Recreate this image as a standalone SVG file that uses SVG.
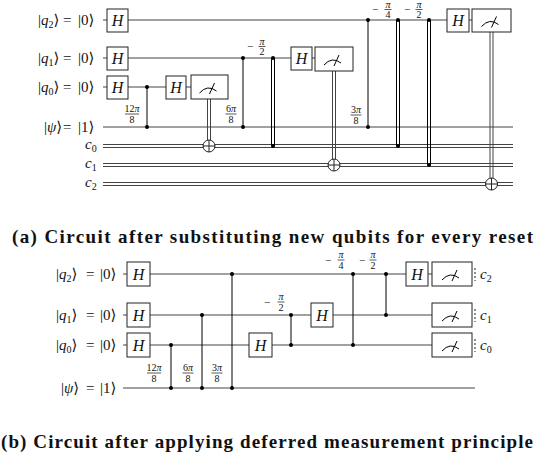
<svg xmlns="http://www.w3.org/2000/svg" width="535" height="460" viewBox="0 0 535 460">
<style>
.w{stroke:#444;stroke-width:1;fill:none}
.c{stroke:#000;stroke-width:1;fill:none}
.box{fill:#fff;stroke:#222;stroke-width:1}
.dot{fill:#000}
.lbl{font-family:"Liberation Serif","DejaVu Serif",serif;font-size:15px;fill:#111}
.it{font-style:italic}
.sub{font-size:10px}
.fr{font-family:"Liberation Serif","DejaVu Serif",serif;font-size:10px;text-anchor:middle;fill:#111}
.mn{font-family:"Liberation Serif","DejaVu Serif",serif;font-size:11px;fill:#111}
.g{font-family:"Liberation Serif","DejaVu Serif",serif;font-size:16px;font-style:italic;text-anchor:middle;fill:#111}
.cap{font-family:"Liberation Serif","DejaVu Serif",serif;font-weight:bold;font-size:19px;fill:#111}
.bar{stroke:#111;stroke-width:0.7}
.oplus{fill:#fff;stroke:#222;stroke-width:1}
</style>
<defs>
<g id="meter"><path d="M-10,6 Q-2,-3 7,4 M0,7 L5,-4" fill="none" stroke="#000" stroke-width="1"/></g>
<g id="xor"><circle r="6" class="oplus"/><path d="M-6,0H6M0,-6V6" stroke="#222" stroke-width="1"/></g>
</defs>

<!-- ===== (a) top circuit ===== -->
<g id="connectors-a">
<path class="w" d="M103,20H472M103,58H315M103,87H191M103,127H513"/>
<path class="w" d="M103,144.5H513M103,147.5H513M103,163.5H513M103,166.5H513M103,182.5H513M103,185.5H513"/>
<path class="c" d="M147,87V127M243,58V127M368,20V127"/>
<path class="c" d="M271.5,58V146M274.5,58V146M396.5,20V146M399.5,20V146M427.5,20V165M430.5,20V165"/>
<path class="w" d="M207.5,99V140M210.5,99V140M332.5,71V159M335.5,71V159M490,32V178M493,32V178"/>
<g class="dot"><circle cx="147" cy="87" r="2"/><circle cx="147" cy="127" r="2"/><circle cx="243" cy="58" r="2"/><circle cx="243" cy="127" r="2"/><circle cx="273" cy="58" r="2"/><circle cx="273" cy="146" r="2"/><circle cx="368" cy="20" r="2"/><circle cx="368" cy="127" r="2"/><circle cx="398" cy="20" r="2"/><circle cx="398" cy="146" r="2"/><circle cx="429" cy="20" r="2"/><circle cx="429" cy="165" r="2"/></g>
<use href="#xor" x="209" y="146"/>
<use href="#xor" x="334" y="165"/>
<use href="#xor" x="491.5" y="184"/>
</g>

<g id="labels-a">
<text class="lbl" y="25"><tspan x="38">|</tspan><tspan class="it">q</tspan><tspan class="sub" dy="3">2</tspan><tspan dy="-3">⟩</tspan><tspan x="63">=</tspan><tspan x="78">|0⟩</tspan></text>
<text class="lbl" y="63"><tspan x="38">|</tspan><tspan class="it">q</tspan><tspan class="sub" dy="3">1</tspan><tspan dy="-3">⟩</tspan><tspan x="63">=</tspan><tspan x="78">|0⟩</tspan></text>
<text class="lbl" y="92"><tspan x="38">|</tspan><tspan class="it">q</tspan><tspan class="sub" dy="3">0</tspan><tspan dy="-3">⟩</tspan><tspan x="63">=</tspan><tspan x="78">|0⟩</tspan></text>
<text class="lbl" y="132"><tspan x="44">|</tspan><tspan class="it">ψ</tspan><tspan>⟩</tspan><tspan x="63">=</tspan><tspan x="78">|1⟩</tspan></text>
<text class="lbl" y="149"><tspan x="85" class="it">c</tspan><tspan class="sub" dy="3">0</tspan></text>
<text class="lbl" y="168"><tspan x="85" class="it">c</tspan><tspan class="sub" dy="3">1</tspan></text>
<text class="lbl" y="187"><tspan x="85" class="it">c</tspan><tspan class="sub" dy="3">2</tspan></text>
</g>

<g id="fractions-a">
<text class="fr" x="132" y="112">12<tspan class="it">π</tspan></text><path class="bar" d="M125,114H139"/><text class="fr" x="132" y="123">8</text>
<text class="fr" x="231" y="112">6<tspan class="it">π</tspan></text><path class="bar" d="M225.5,114H236.5"/><text class="fr" x="231" y="123">8</text>
<text class="fr" x="356" y="113">3<tspan class="it">π</tspan></text><path class="bar" d="M350.5,115H361.5"/><text class="fr" x="356" y="124">8</text>
<text class="mn" x="247" y="50">−</text><text class="fr" x="262" y="44.5"><tspan class="it">π</tspan></text><path class="bar" d="M258.5,46.5H265.5"/><text class="fr" x="262" y="55">2</text>
<text class="mn" x="372" y="13">−</text><text class="fr" x="388" y="8"><tspan class="it">π</tspan></text><path class="bar" d="M384.5,9.5H391.5"/><text class="fr" x="388" y="18">4</text>
<text class="mn" x="404" y="13">−</text><text class="fr" x="419" y="8"><tspan class="it">π</tspan></text><path class="bar" d="M415.5,9.5H422.5"/><text class="fr" x="419" y="18">2</text>
</g>

<g id="a-H-q2-1"><rect class="box" x="107" y="9" width="21" height="23"/><text class="g" x="117.5" y="26">H</text></g>
<g id="a-H-q1-1"><rect class="box" x="107" y="47" width="21" height="23"/><text class="g" x="117.5" y="64">H</text></g>
<g id="a-H-q0-1"><rect class="box" x="107" y="76" width="21" height="23"/><text class="g" x="117.5" y="93">H</text></g>
<g id="a-H-q0-2"><rect class="box" x="166" y="76" width="20" height="23"/><text class="g" x="176" y="93">H</text></g>
<g id="a-M-q0"><rect class="box" x="191" y="75" width="37" height="24"/><use href="#meter" x="209.5" y="87"/></g>
<g id="a-H-q1-2"><rect class="box" x="291" y="47" width="21" height="23"/><text class="g" x="301.5" y="64">H</text></g>
<g id="a-M-q1"><rect class="box" x="315" y="47" width="38" height="24"/><use href="#meter" x="334" y="59"/></g>
<g id="a-H-q2-2"><rect class="box" x="447" y="9" width="22" height="23"/><text class="g" x="458" y="26">H</text></g>
<g id="a-M-q2"><rect class="box" x="472" y="9" width="39" height="23"/><use href="#meter" x="491.5" y="20.5"/></g>

<text id="caption-a" class="cap" x="12" y="243" textLength="521">(a) Circuit after substituting new qubits for every reset</text>

<!-- ===== (b) bottom circuit ===== -->
<g id="connectors-b">
<path class="w" d="M123,274H432M123,315H432M123,345H432M123,388H475"/>
<path class="c" d="M171,345V388M202,315V388M232,274V388M291,315V345M353,274V345M386,274V315"/>
<g class="dot"><circle cx="171" cy="345" r="2"/><circle cx="171" cy="388" r="2"/><circle cx="202" cy="315" r="2"/><circle cx="202" cy="388" r="2"/><circle cx="232" cy="274" r="2"/><circle cx="232" cy="388" r="2"/><circle cx="291" cy="315" r="2"/><circle cx="291" cy="345" r="2"/><circle cx="353" cy="274" r="2"/><circle cx="353" cy="345" r="2"/><circle cx="386" cy="274" r="2"/><circle cx="386" cy="315" r="2"/></g>
<path d="M475,268V281M475,309V322M475,339V352" stroke="#222" stroke-width="1" stroke-dasharray="2,2"/>
</g>

<g id="labels-b">
<text class="lbl" y="279"><tspan x="56">|</tspan><tspan class="it">q</tspan><tspan class="sub" dy="3">2</tspan><tspan dy="-3">⟩</tspan><tspan x="86">=</tspan><tspan x="100">|0⟩</tspan></text>
<text class="lbl" y="320"><tspan x="56">|</tspan><tspan class="it">q</tspan><tspan class="sub" dy="3">1</tspan><tspan dy="-3">⟩</tspan><tspan x="86">=</tspan><tspan x="100">|0⟩</tspan></text>
<text class="lbl" y="350"><tspan x="56">|</tspan><tspan class="it">q</tspan><tspan class="sub" dy="3">0</tspan><tspan dy="-3">⟩</tspan><tspan x="86">=</tspan><tspan x="100">|0⟩</tspan></text>
<text class="lbl" y="393"><tspan x="61">|</tspan><tspan class="it">ψ</tspan><tspan>⟩</tspan><tspan x="86">=</tspan><tspan x="100">|1⟩</tspan></text>
<text class="lbl" y="279"><tspan x="480" class="it">c</tspan><tspan class="sub" dy="3">2</tspan></text>
<text class="lbl" y="320"><tspan x="480" class="it">c</tspan><tspan class="sub" dy="3">1</tspan></text>
<text class="lbl" y="350"><tspan x="480" class="it">c</tspan><tspan class="sub" dy="3">0</tspan></text>
</g>

<g id="fractions-b">
<text class="fr" x="154" y="371">12<tspan class="it">π</tspan></text><path class="bar" d="M147,373H161"/><text class="fr" x="154" y="382">8</text>
<text class="fr" x="188" y="371">6<tspan class="it">π</tspan></text><path class="bar" d="M182.5,373H193.5"/><text class="fr" x="188" y="382">8</text>
<text class="fr" x="217" y="371">3<tspan class="it">π</tspan></text><path class="bar" d="M211.5,373H222.5"/><text class="fr" x="217" y="382">8</text>
<text class="mn" x="264" y="305.5">−</text><text class="fr" x="281" y="300"><tspan class="it">π</tspan></text><path class="bar" d="M277.5,302H284.5"/><text class="fr" x="281" y="311">2</text>
<text class="mn" x="325" y="263.5">−</text><text class="fr" x="341" y="258"><tspan class="it">π</tspan></text><path class="bar" d="M337.5,260H344.5"/><text class="fr" x="341" y="269">4</text>
<text class="mn" x="359" y="263.5">−</text><text class="fr" x="373" y="258"><tspan class="it">π</tspan></text><path class="bar" d="M369.5,260H376.5"/><text class="fr" x="373" y="269">2</text>
</g>

<g id="b-H-q2-1"><rect class="box" x="127" y="262" width="23" height="24"/><text class="g" x="138.5" y="279.5">H</text></g>
<g id="b-H-q1-1"><rect class="box" x="127" y="303" width="23" height="24"/><text class="g" x="138.5" y="320.5">H</text></g>
<g id="b-H-q0-1"><rect class="box" x="127" y="333" width="23" height="24"/><text class="g" x="138.5" y="350.5">H</text></g>
<g id="b-H-q0-2"><rect class="box" x="249" y="333" width="23" height="24"/><text class="g" x="260.5" y="350.5">H</text></g>
<g id="b-H-q1-2"><rect class="box" x="311" y="303" width="22" height="24"/><text class="g" x="322" y="320.5">H</text></g>
<g id="b-H-q2-2"><rect class="box" x="406" y="262" width="22" height="24"/><text class="g" x="417" y="279.5">H</text></g>
<g id="b-M-q2"><rect class="box" x="432" y="262" width="40" height="24"/><use href="#meter" x="452" y="274"/></g>
<g id="b-M-q1"><rect class="box" x="432" y="303" width="40" height="24"/><use href="#meter" x="452" y="315"/></g>
<g id="b-M-q0"><rect class="box" x="432" y="333" width="40" height="24"/><use href="#meter" x="452" y="345"/></g>

<text id="caption-b" class="cap" x="1" y="448" textLength="532">(b) Circuit after applying deferred measurement principle</text>
</svg>
